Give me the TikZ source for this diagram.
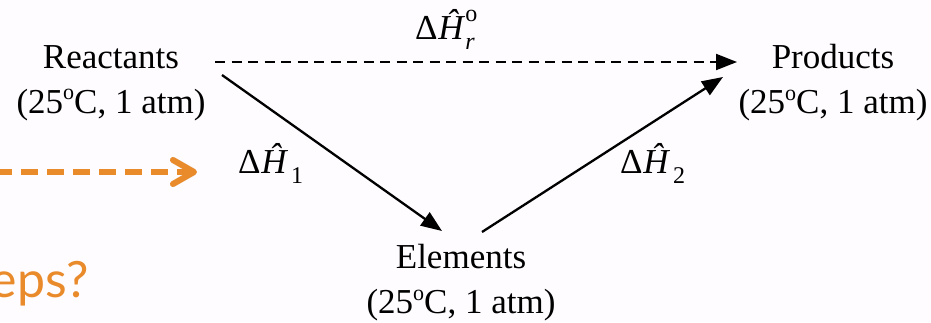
\documentclass[tikz,border=0pt]{standalone}
\usepackage{fontspec}
\setmainfont{Liberation Serif}
\newfontfamily\orangefont{Lato}
\usetikzlibrary{arrows.meta}
\definecolor{bgc}{HTML}{FEFCFE}
\definecolor{orng}{HTML}{E98A2B}
\tikzset{
  lbl/.style={inner sep=0pt, align=center, font=\fontsize{35}{45}\selectfont},
  conn/.style={line width=2.3pt, -{Triangle[length=21pt,width=16pt]}},
}
\newcommand{\dH}{Δ\kern0.02em\textit{\^H}}
\newcommand{\smallsz}{\fontsize{24}{24}\selectfont}
\newcommand{\degsup}{\raisebox{0.38em}{\fontsize{22}{22}\selectfont o}}
\begin{document}
\begin{tikzpicture}[x=1pt,y=-1pt]
\useasboundingbox (0,0) rectangle (931,322);
\fill[bgc] (0,0) rectangle (931,322);
\clip (0,0) rectangle (931,322);
% nodes
\node[lbl] (react) at (111,83) {Reactants\\(25\degsup C, 1 atm)};
\node[lbl] (prod) at (833,83) {Products\\(25\degsup C, 1 atm)};
\node[lbl] (elem) at (461,283) {Elements\\(25\degsup C, 1 atm)};
% connector end points
\coordinate (d1) at (215,62);
\coordinate (d2) at (737,62);
\coordinate (a1) at (222,75);
\coordinate (a2) at (442,231);
\coordinate (b1) at (482,232);
\coordinate (b2) at (723,77);
\draw[conn, line width=2pt, dash pattern=on 10pt off 6.5pt] (d1) -- (d2);
\draw[conn] (a1) -- (a2);
\draw[conn] (b1) -- (b2);
% labels
\node[lbl, anchor=base west] (hr) at (415,39) {\dH\rlap{\raisebox{-0.3em}{\smallsz\textit{r}}}\raisebox{0.5em}{\smallsz o}};
\node[lbl, anchor=base west] (h1) at (238,173) {\dH\kern0.08em\raisebox{-0.3em}{\smallsz 1}};
\node[lbl, anchor=base west] (h2) at (620,173) {\dH\kern0.08em\raisebox{-0.3em}{\smallsz 2}};
% orange fragment
\coordinate (o1) at (-5,172);
\coordinate (o2) at (188,172);
\coordinate (c1) at (173,160);
\coordinate (c2) at (194,172);
\coordinate (c3) at (173,184);
\begin{scope}[shift={(2,4)}, black!20, opacity=0.5, line width=6pt]
\draw[dash pattern=on 17pt off 9pt] (o1) -- (o2);
\draw[line cap=round, line join=round] (c1) -- (c2) -- (c3);
\end{scope}
\draw[orng, line width=6pt, dash pattern=on 17pt off 9pt] (o1) -- (o2);
\draw[orng, line width=6pt, line cap=round, line join=round] (c1) -- (c2) -- (c3);
\node[inner sep=0pt, anchor=base east, text=orng, font=\orangefont\fontsize{50}{50}\selectfont] (steps) at (89,297) {eps?};
\end{tikzpicture}
\end{document}
